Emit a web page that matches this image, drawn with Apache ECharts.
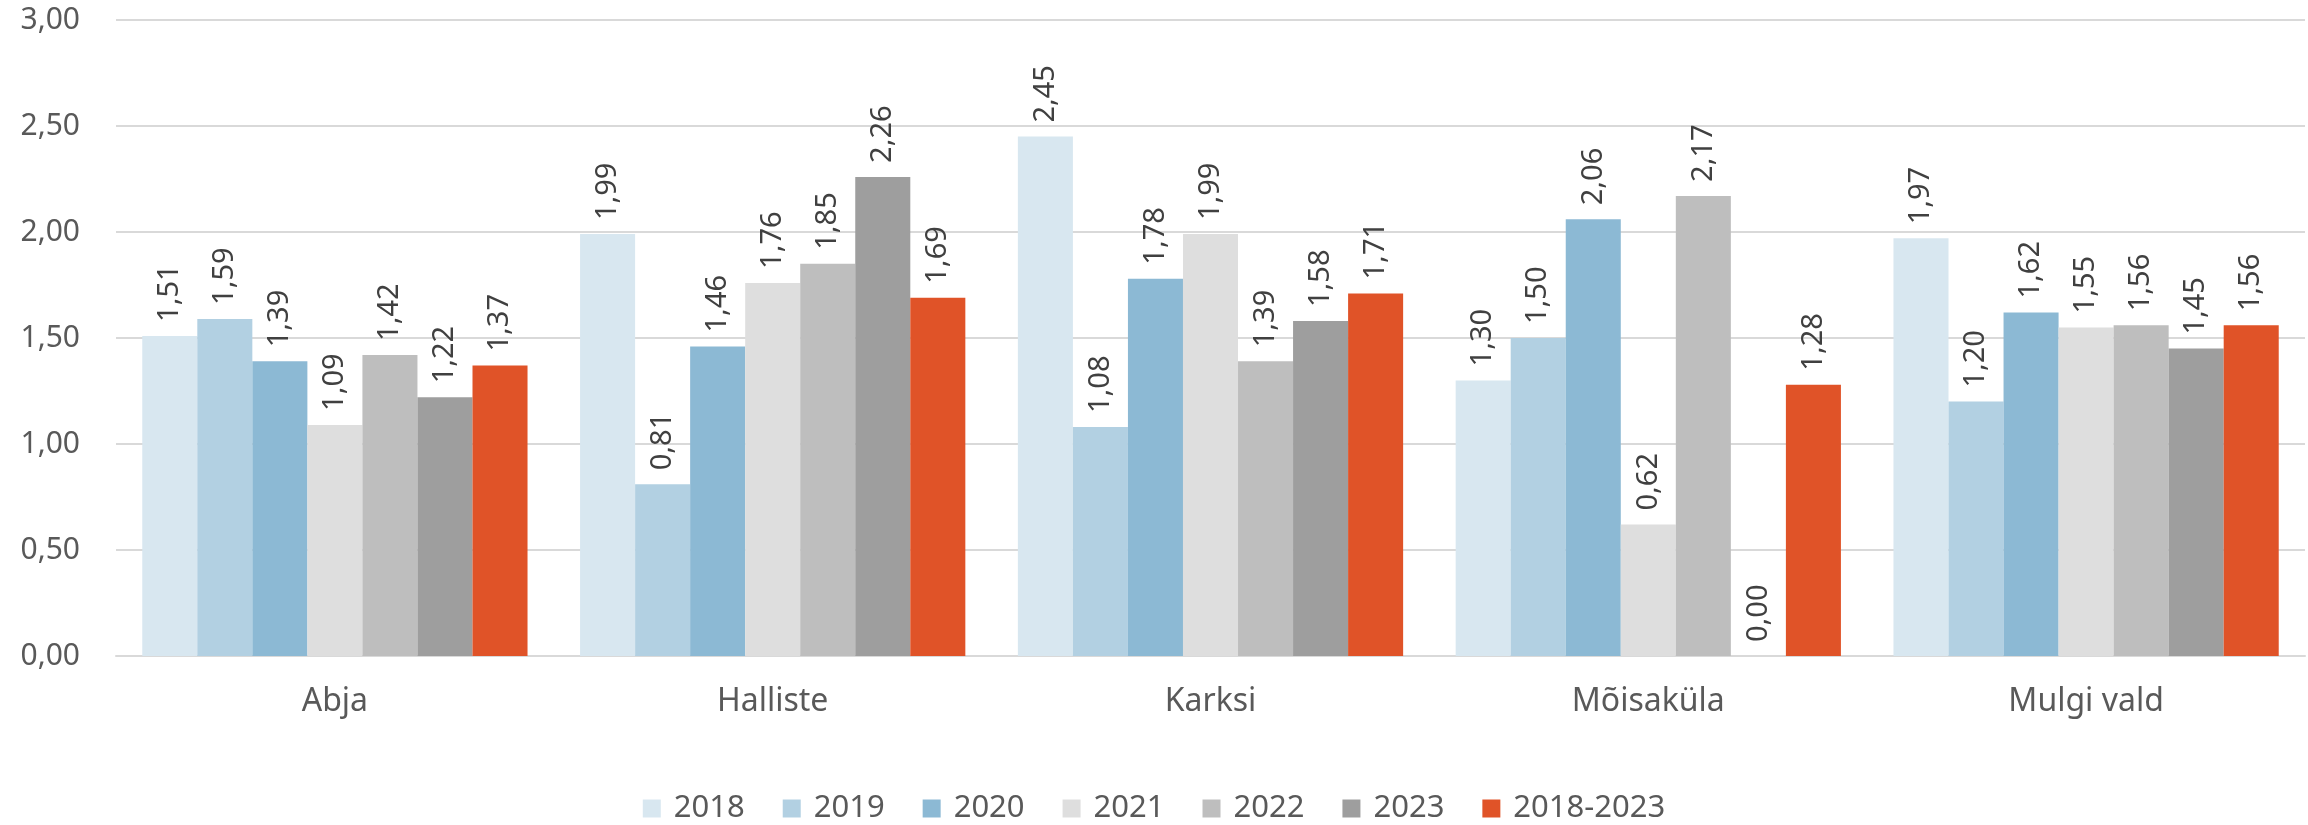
<!DOCTYPE html>
<html><head><meta charset="utf-8">
<script src="https://cdn.jsdelivr.net/npm/echarts@6/dist/echarts.min.js"></script>
<style>html,body{margin:0;padding:0;background:#fff}#c{width:2308px;height:825px}</style>
</head><body><div id="c"></div>
<script>
const categories = ['Abja', 'Halliste', 'Karksi', 'Mõisaküla', 'Mulgi vald'];
const seriesNames = ['2018', '2019', '2020', '2021', '2022', '2023', '2018-2023'];
const v2018 = [1.51, 1.99, 2.45, 1.30, 1.97];
const v2019 = [1.59, 0.81, 1.08, 1.50, 1.20];
const v2020 = [1.39, 1.46, 1.78, 2.06, 1.62];
const v2021 = [1.09, 1.76, 1.99, 0.62, 1.55];
const v2022 = [1.42, 1.85, 1.39, 2.17, 1.56];
const v2023 = [1.22, 2.26, 1.58, 0.00, 1.45];
const vAll = [1.37, 1.69, 1.71, 1.28, 1.56];
const yTicks = {min: 0, max: 3, interval: 0.5};
const colors = ['#D8E7F0', '#B2D0E2', '#8CB9D4', '#DEDEDE', '#BEBEBE', '#9E9E9E', '#E05328'];
const allValues = [v2018, v2019, v2020, v2021, v2022, v2023, vAll];
const font = 'Noto Sans';
const fmt = v => Number(v).toFixed(2).replace('.', ',');

const chart = echarts.init(document.getElementById('c'), null, {renderer: 'canvas'});
chart.setOption({
  animation: false,
  color: colors,
  textStyle: {fontFamily: font},
  grid: {left: 116, right: 3, top: 20, bottom: 169, containLabel: false},
  legend: {
    data: seriesNames, left: 'center', top: 788, itemWidth: 18, itemHeight: 18, itemGap: 38,
    icon: 'rect', textStyle: {fontFamily: font, fontSize: 31, color: '#595959', padding: [0, 0, 0, 8]}
  },
  xAxis: {
    type: 'category', data: categories,
    axisLine: {lineStyle: {color: '#D9D9D9', width: 2}},
    axisTick: {show: false},
    axisLabel: {fontFamily: font, fontSize: 32, color: '#595959', margin: 30}
  },
  yAxis: {
    type: 'value', min: yTicks.min, max: yTicks.max, interval: yTicks.interval,
    axisLine: {show: false}, axisTick: {show: false},
    splitLine: {lineStyle: {color: '#D9D9D9', width: 2}},
    axisLabel: {fontFamily: font, fontSize: 30, color: '#595959', margin: 36, formatter: fmt}
  },
  series: seriesNames.map((n, i) => ({
    name: n, type: 'bar', data: allValues[i],
    barGap: '0%', barCategoryGap: '12%',
    itemStyle: {color: colors[i]},
    label: {
      show: true, position: 'top', rotate: 90, align: 'left', verticalAlign: 'middle',
      distance: 14, fontFamily: font, fontSize: 29, color: '#404040', formatter: p => fmt(p.value)
    }
  }))
});
</script></body></html>
